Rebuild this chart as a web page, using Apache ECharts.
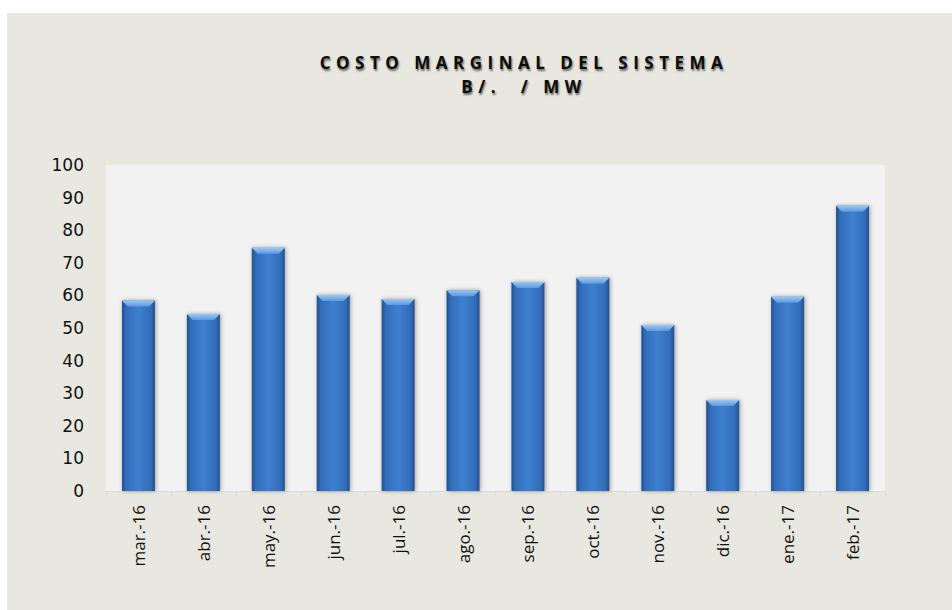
<!DOCTYPE html>
<html>
<head>
<meta charset="utf-8">
<script src="https://cdn.jsdelivr.net/npm/echarts@6/dist/echarts.min.js"></script>
<style>
  html, body { margin: 0; padding: 0; background: #ffffff; }
  #chart {
    position: absolute;
    left: 7px;
    top: 13px;
    width: 945px;
    height: 597px;
    background: #e8e8e0;
  }
  /* espaciado de letras y sombra del título (solo el título usa este color) */
  #chart text[fill="#0d0d0d"] {
    letter-spacing: 5.5px;
    text-shadow: 1px 2px 2px rgba(0, 0, 0, 0.55);
  }
</style>
</head>
<body>
<div id="chart"></div>
<script>
// datos
var categorias = ['mar.-16', 'abr.-16', 'may.-16', 'jun.-16', 'jul.-16', 'ago.-16',
                  'sep.-16', 'oct.-16', 'nov.-16', 'dic.-16', 'ene.-17', 'feb.-17'];
var costoMarginal = [58.4, 54.3, 74.6, 60.1, 58.9, 61.6, 64.1, 65.4, 50.9, 27.9, 59.6, 87.5];
var tituloLinea1 = 'COSTO MARGINAL DEL SISTEMA';
var tituloLinea2 = 'B/.  / MW';

var chart = echarts.init(document.getElementById('chart'), null, { renderer: 'svg' });

var estiloTitulo = function (texto) {
  return {
    text: texto,
    fill: '#0d0d0d',
    font: 'bold 17px "Open Sans"',
    textAlign: 'center'
  };
};

var option = {
  animation: false,
  backgroundColor: '#e8e8e0',
  graphic: [
    { type: 'text', x: 517, y: 41, style: estiloTitulo(tituloLinea1) },
    { type: 'text', x: 517, y: 65, style: estiloTitulo(tituloLinea2) }
  ],
  grid: {
    left: 99,
    right: 67,
    top: 152,
    bottom: 119,
    show: true,
    backgroundColor: '#f2f2f2',
    borderWidth: 0
  },
  xAxis: {
    type: 'category',
    data: categorias,
    axisLine: { lineStyle: { color: '#dcdcd6', width: 1 } },
    axisTick: { show: true, length: 5, lineStyle: { color: '#dcdcd6' } },
    axisLabel: {
      rotate: 90,
      margin: 14,
      color: '#111',
      fontFamily: 'Open Sans',
      fontSize: 17
    }
  },
  yAxis: {
    type: 'value',
    min: 0,
    max: 100,
    interval: 10,
    axisLine: { show: false },
    axisTick: { show: false },
    splitLine: { show: false },
    axisLabel: {
      margin: 22,
      color: '#111',
      fontFamily: 'DejaVu Sans',
      fontSize: 17
    }
  },
  series: [
    {
      type: 'bar',
      data: costoMarginal,
      barWidth: 33,
      itemStyle: {
        color: new echarts.graphic.LinearGradient(0, 0, 1, 0, [
          { offset: 0, color: '#234f8c' },
          { offset: 0.12, color: '#326cb8' },
          { offset: 0.5, color: '#3e80d0' },
          { offset: 0.88, color: '#326cb8' },
          { offset: 1, color: '#234f8c' }
        ]),
        shadowColor: 'rgba(0,0,0,0.35)',
        shadowBlur: 4,
        shadowOffsetX: 1,
        shadowOffsetY: 0
      }
    },
    {
      // bisel claro en la parte superior de cada barra
      type: 'pictorialBar',
      data: costoMarginal,
      symbol: 'path://M0,0 L33,0 L27,6 L6,6 Z',
      symbolSize: [33, 6],
      symbolPosition: 'end',
      z: 3,
      itemStyle: {
        color: new echarts.graphic.LinearGradient(0, 0, 0, 1, [
          { offset: 0, color: '#9cc8f2' },
          { offset: 1, color: '#5a98de' }
        ])
      }
    }
  ]
};

chart.setOption(option);
</script>
</body>
</html>
